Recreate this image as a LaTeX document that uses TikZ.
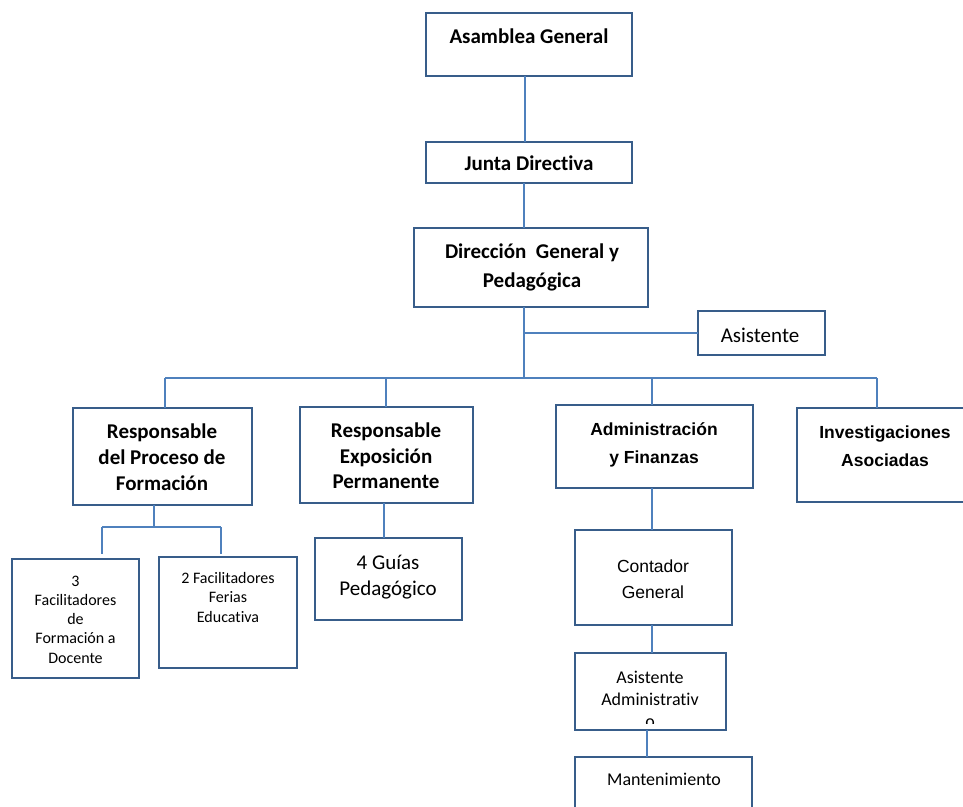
\documentclass[tikz,border=0pt]{standalone}
\usepackage{fontspec}
\setmainfont[Ligatures=NoCommon]{Carlito}
\newfontfamily\arialf{Liberation Sans}
\definecolor{boxcol}{RGB}{56,93,138}
\definecolor{linecol}{RGB}{79,129,189}
\tikzset{
  box/.style={draw=boxcol, line width=2pt, rectangle, inner sep=0pt, outer sep=0pt},
  conn/.style={draw=linecol, line width=2pt},
  tbold/.style={anchor=base, inner sep=0pt, font=\fontsize{21}{25}\selectfont\bfseries},
  treg/.style={anchor=base, inner sep=0pt, font=\fontsize{21}{25}\selectfont},
  tmid/.style={anchor=base, inner sep=0pt, font=\fontsize{18}{22}\selectfont},
  tsmall/.style={anchor=base, inner sep=0pt, font=\fontsize{16}{19}\selectfont},
  tarialb/.style={anchor=base, inner sep=0pt, font=\arialf\fontsize{17.5}{21}\selectfont\bfseries},
  tarial/.style={anchor=base, inner sep=0pt, font=\arialf\fontsize{17.5}{21}\selectfont},
}
\begin{document}
\begin{tikzpicture}[x=1pt, y=-1pt]
\fill[white] (0,0) rectangle (963,806);
\useasboundingbox (0,0) rectangle (963,806);

% boxes
\node[box, minimum width=206, minimum height=63] (ag) at (529,44.5) {};
\node[box, minimum width=206, minimum height=41] (jd) at (529,162.5) {};
\node[box, minimum width=234, minimum height=79] (dg) at (531,267.5) {};
\node[box, minimum width=127, minimum height=44] (as) at (761.5,333) {};
\node[box, minimum width=179, minimum height=97] (rp) at (162.5,456.5) {};
\node[box, minimum width=173, minimum height=96] (re) at (386.5,455) {};
\node[box, minimum width=197, minimum height=83] (af) at (654.5,446.5) {};
\node[box, minimum width=178, minimum height=94] (ia) at (886,455) {};
\node[box, minimum width=127, minimum height=119] (fa) at (75.5,618.5) {};
\node[box, minimum width=138, minimum height=111] (fb) at (228,612.5) {};
\node[box, minimum width=147, minimum height=82] (gp) at (388.5,579) {};
\node[box, minimum width=157, minimum height=95] (cg) at (653.5,577.5) {};
\node[box, minimum width=151, minimum height=77] (aa) at (650.5,691.5) {};
\node[box, minimum width=177, minimum height=73] (mt) at (663.5,793.5) {};

% texts
\node[tbold] (t1) at (529,43) {Asamblea General};
\node[tbold] (t2) at (529,170) {Junta Directiva};
\node[tbold] (t3) at (532,258) {Dirección\ \ General y};
\node[tbold] (t4) at (532,287) {Pedagógica};
\node[treg] (t5) at (760,342) {Asistente};
\node[tbold] (t6) at (162,438) {Responsable};
\node[tbold] (t7) at (162,464) {del Proceso de};
\node[tbold] (t8) at (162,490) {Formación};
\node[tbold] (t9) at (386,437) {Responsable};
\node[tbold] (t10) at (386,463) {Exposición};
\node[tbold] (t11) at (386,488) {Permanente};
\node[tarialb] (t12) at (654,435) {Administración};
\node[tarialb] (t13) at (654,463) {y Finanzas};
\node[tarialb] (t14) at (885,438) {Investigaciones};
\node[tarialb] (t15) at (885,466) {Asociadas};
\node[tsmall] (t16) at (75.5,586) {3};
\node[tsmall] (t17) at (75.5,605) {Facilitadores};
\node[tsmall] (t18) at (75.5,624) {de};
\node[tsmall] (t19) at (75.5,643) {Formación a};
\node[tsmall] (t20) at (75.5,663) {Docente};
\node[tsmall] (t21) at (228,583) {2 Facilitadores};
\node[tsmall] (t22) at (228,602) {Ferias};
\node[tsmall] (t23) at (228,622) {Educativa};
\node[treg] (t24) at (388,569) {4 Guías};
\node[treg] (t25) at (388,595) {Pedagógico};
\node[tarial] (t26) at (653,572) {Contador};
\node[tarial] (t27) at (653,598) {General};
\node[tmid] (t28) at (650,683) {Asistente};
\node[tmid] (t29) at (650,705) {Administrativ};
\begin{scope}
\clip (577,655) rectangle (724,723.5);
\node[tmid] (t30) at (650,727) {o};
\end{scope}
\node[tmid] (t31) at (664,785) {Mantenimiento};

% connectors
\coordinate (xa) at (525,0);
\coordinate (xb) at (524,0);
\coordinate (bus) at (0,378);
\draw[conn] (ag.south -| xa) -- (jd.north -| xa);
\draw[conn] (jd.south -| xb) -- (dg.north -| xb);
\draw[conn] (dg.south -| xb) -- (bus -| xb);
\draw[conn] (as.west -| xb) -- (as.west);
\coordinate (d1) at (165,378);
\coordinate (d2) at (386,378);
\coordinate (d3) at (652,378);
\coordinate (d4) at (877,378);
\draw[conn] (d1) -- (d4);
\draw[conn] (d1) -- (rp.north -| d1);
\draw[conn] (d2) -- (re.north -| d2);
\draw[conn] (d3) -- (af.north -| d3);
\draw[conn] (d4) -- (ia.north -| d4);

\coordinate (s0) at (154,527);
\coordinate (s1) at (102,527);
\coordinate (s2) at (221,527);
\coordinate (e1) at (102,554);
\coordinate (e2) at (221,554);
\draw[conn] (rp.south -| s0) -- (s0);
\draw[conn] (s1) -- (s2);
\draw[conn] (s1) -- (e1);
\draw[conn] (s2) -- (e2);

\coordinate (xg) at (384,0);
\draw[conn] (re.south -| xg) -- (gp.north -| xg);
\coordinate (xc) at (652,0);
\draw[conn] (af.south -| xc) -- (cg.north -| xc);
\draw[conn] (cg.south -| xc) -- (aa.north -| xc);
\coordinate (xm) at (647,0);
\draw[conn] (aa.south -| xm) -- (mt.north -| xm);
\end{tikzpicture}
\end{document}
